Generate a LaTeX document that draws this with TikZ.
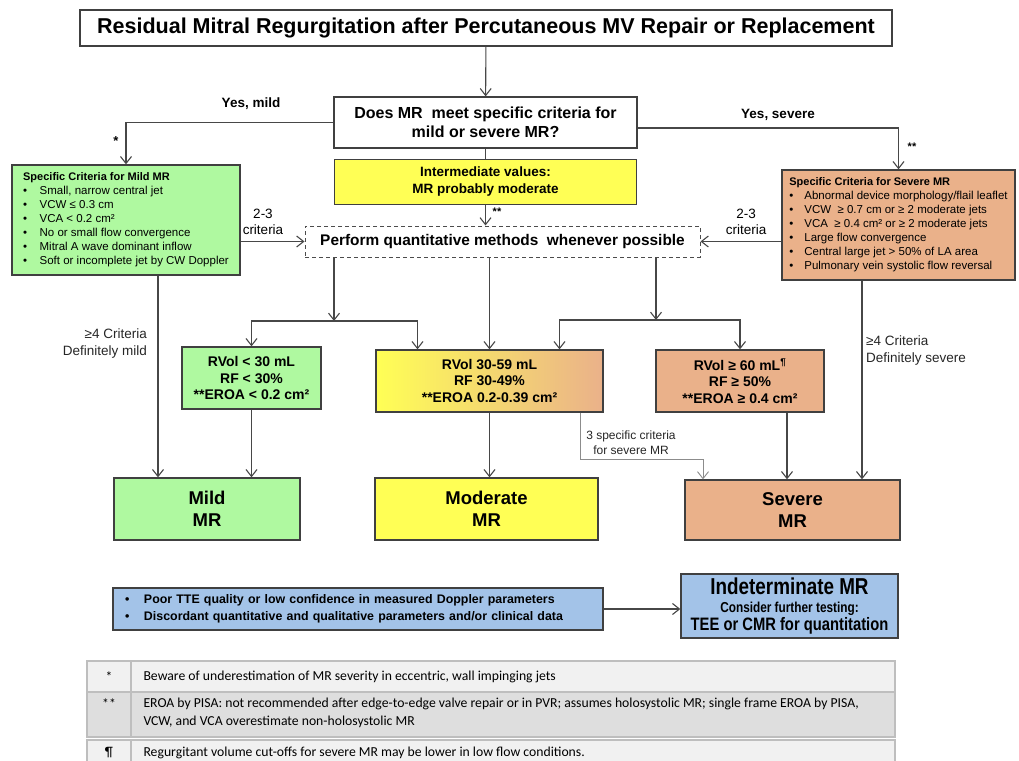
\documentclass[tikz,border=0pt]{standalone}
\usepackage{fontspec}
\setmainfont{Liberation Sans}
\newfontfamily\narrowsans{Liberation Sans}[FakeStretch=0.82]
\newfontfamily\notesans{Carlito}
\usetikzlibrary{arrows.meta,positioning}

\definecolor{mildgreen}{HTML}{AFF9A0}
\definecolor{modyellow}{HTML}{FFFF55}
\definecolor{sevorange}{HTML}{EAB18A}
\definecolor{indblue}{HTML}{A3C3E8}
\definecolor{boxline}{HTML}{404040}
\definecolor{rowlight}{HTML}{F1F1F1}
\definecolor{rowdark}{HTML}{DEDEDE}
\definecolor{rowline}{HTML}{BEBEBE}

\newcommand{\fsz}[2]{\fontsize{#1}{#2}\selectfont}
\newcommand{\blt}[1][16.5pt]{\makebox[#1][l]{\textbullet}}

\begin{document}
\begin{tikzpicture}[x=1pt,y=-1pt,
  >={Straight Barb[length=7pt,width=11pt]},
  box/.style={draw=boxline,line width=1.3pt,align=center,inner sep=2pt,font=\bfseries},
  critbox/.style={draw=boxline,line width=1.3pt,align=left,inner xsep=0pt,inner ysep=2pt},
  conn/.style={draw=black!72,line width=1.1pt},
  thinconn/.style={draw=black!45,line width=0.9pt},
  lbl/.style={inner sep=0pt,align=center}]

\useasboundingbox (0,0) rectangle (1019,760);

\node[box,minimum width=812pt,minimum height=36pt,font=\bfseries\fsz{21.5}{24}] (title) at (486,28) {Residual Mitral Regurgitation after Percutaneous MV Repair or Replacement};
\node[box,minimum width=303pt,minimum height=51pt,font=\bfseries\fsz{16}{19}] (question) at (485.5,122.5) {Does MR~ meet specific criteria for\\mild or severe MR?};
\node[box,fill=modyellow,minimum width=302pt,minimum height=45pt,font=\bfseries\fsz{13.5}{17},below=10pt of question] (inter) {Intermediate values:\\MR probably moderate};
\node[box,draw=black!70,line width=1pt,dash pattern=on 4pt off 3pt,minimum width=395pt,minimum height=31pt,font=\bfseries\fsz{15.4}{18}] (quant) at (502.5,241.5) {Perform quantitative methods~ whenever possible};

\node[critbox,fill=mildgreen,minimum width=228pt,minimum height=110pt,font=\fsz{11.5}{14}] (mildcrit) at (126,220) {{\bfseries\fsz{11}{14}Specific Criteria for Mild MR}\\
\blt Small, narrow central jet\\
\blt VCW ≤ 0.3 cm\\
\blt VCA < 0.2 cm²\\
\blt No or small flow convergence\\
\blt Mitral A wave dominant inflow\\
\blt Soft or incomplete jet by CW Doppler};
\node[critbox,fill=sevorange,minimum width=233pt,minimum height=110pt,font=\fsz{11.5}{14}] (sevcrit) at (898.5,225) {{\bfseries\fsz{11}{14}Specific Criteria for Severe MR}\\
\blt[15pt]Abnormal device morphology/flail leaflet\\
\blt[15pt]VCW~ ≥ 0.7 cm or ≥ 2 moderate jets\\
\blt[15pt]VCA~ ≥ 0.4 cm² or ≥ 2 moderate jets\\
\blt[15pt]Large flow convergence\\
\blt[15pt]Central large jet > 50\% of LA area\\
\blt[15pt]Pulmonary vein systolic flow reversal};

\node[box,fill=mildgreen,minimum width=139pt,minimum height=62pt,font=\bfseries\fsz{14}{16.5}] (mildq) at (251.5,378) {RVol < 30 mL\\RF < 30\%\\**EROA < 0.2 cm²};
\node[box,left color=modyellow,middle color=modyellow!60!sevorange,right color=sevorange,minimum width=227pt,minimum height=62pt,font=\bfseries\fsz{14}{16.5}] (modq) at (489.5,381) {RVol 30-59 mL\\RF 30-49\%\\**EROA 0.2-0.39 cm²};
\node[box,fill=sevorange,minimum width=168pt,minimum height=62pt,font=\bfseries\fsz{14}{16.5}] (sevq) at (740,381) {RVol ≥ 60 mL\textsuperscript{¶}\\RF ≥ 50\%\\**EROA ≥ 0.4 cm²};

\node[box,fill=mildgreen,minimum width=186pt,minimum height=62pt,font=\bfseries\fsz{18.5}{22}] (mild) at (207,509) {Mild\\MR};
\node[box,fill=modyellow,minimum width=223pt,minimum height=62pt,font=\bfseries\fsz{18.5}{22}] (moderate) at (486.5,509) {Moderate\\MR};
\node[box,fill=sevorange,minimum width=215pt,minimum height=60pt,font=\bfseries\fsz{18.5}{22}] (severe) at (792.5,510) {Severe\\MR};

\node[box,fill=indblue,align=left,minimum width=490pt,minimum height=42pt,text width=466pt,font=\bfseries\fsz{12.4}{16.5}] (tte) at (358,609) {\blt[19pt]Poor TTE quality or low confidence in measured Doppler parameters\\
\blt[19pt]Discordant quantitative and qualitative parameters and/or clinical data};
\node[box,fill=indblue,minimum width=217pt,minimum height=64pt,inner sep=1pt,font=\narrowsans\bfseries\fsz{14.4}{18}] (indet) at (789.5,606) {{\fsz{23}{22}Indeterminate MR}\\{\fsz{14.4}{17}Consider further testing:}\\{\fsz{18}{20}TEE or CMR for quantitation}};

\draw[conn,->] (title) -- (question);
\draw[conn] (question) -- (inter);
\draw[conn,->] (inter.south) -- (inter.south |- quant.north);
\node[font=\bfseries\fsz{11}{12}] (starquant) at (497,212) {**};

\draw[conn,->] (question.west) -| (mildcrit.north);
\node[font=\bfseries\fsz{13.5}{16}] (yesmild) at (251,104) {Yes, mild};
\node[font=\bfseries\fsz{13}{14}] (starmild) at (116,141) {*};
\draw[conn,->] ([yshift=-5.5pt]question.east) -| (sevcrit.north);
\node[font=\bfseries\fsz{13.5}{16}] (yessev) at (778,115) {Yes, severe};
\node[font=\bfseries\fsz{11}{12}] (starsev) at (912,147) {**};

\draw[conn,->] (mildcrit.east |- quant.west) -- (quant.west);
\node[lbl,font=\fsz{13.5}{16}] (critleft) at (263,222) {2-3\\criteria};
\draw[conn,->] (sevcrit.west |- quant.east) -- (quant.east);
\node[lbl,font=\fsz{13.5}{16}] (critright) at (746,222) {2-3\\criteria};

\coordinate (lsplit) at (334,321);
\coordinate (rsplit) at (656,320);
\draw[conn,->] (quant.south -| lsplit) -- (lsplit);
\draw[conn,->] (lsplit) -| (mildq.north);
\draw[conn,->] (lsplit) -| ([xshift=-72pt]modq.north);
\draw[conn,->] (quant.south -| modq.north) -- (modq.north);
\draw[conn,->] (quant.south -| rsplit) -- (rsplit);
\draw[conn,->] (rsplit) -| ([xshift=70pt]modq.north);
\draw[conn,->] (rsplit) -| (sevq.north);

\draw[conn,->] ([xshift=32pt]mildcrit.south) -- ([xshift=32pt]mildcrit.south |- mild.north);
\node[lbl,align=right,anchor=east,text=black!85,font=\fsz{13.5}{17}] (fourmild) at (147,344) {≥4 Criteria\\Definitely mild};
\draw[conn,->] ([xshift=-36.5pt]sevcrit.south) -- ([xshift=-36.5pt]sevcrit.south |- severe.north);
\node[lbl,align=left,anchor=west,text=black!85,font=\fsz{13.5}{17}] (foursev) at (866,351) {≥4 Criteria\\Definitely severe};

\draw[conn,->] (mildq.south) -- (mildq.south |- mild.north);
\draw[conn,->] (modq.south) -- (modq.south |- moderate.north);
\draw[conn,->] ([xshift=47pt]sevq.south) -- ([xshift=47pt]sevq.south |- severe.north);

\coordinate (kink) at (703,459);
\draw[thinconn,->] ([xshift=90.5pt]modq.south) |- (kink) -- (kink |- severe.north);
\node[lbl,text=black!85,font=\fsz{12}{15}] (threecrit) at (631,443) {3 specific criteria\\for severe MR};

\draw[conn,->] (tte.east) -- (tte.east -| indet.west);

\fill[rowlight] (87,661) rectangle (895,692);
\fill[rowdark] (87,692) rectangle (895,737);
\fill[rowlight] (87,740) rectangle (895,770);
\draw[rowline,line width=1.5pt] (87,661) rectangle (895,692);
\draw[rowline,line width=1.5pt] (87,692) rectangle (895,737);
\draw[rowline,line width=1.5pt] (87,740) rectangle (895,770);
\draw[rowline,line width=1.5pt] (131,661) -- (131,737);
\draw[rowline,line width=1.5pt] (131,740) -- (131,770);
\node[font=\notesans\fsz{13.7}{18}] (noteAkey) at (109,677) {*};
\node[font=\notesans\fsz{13.7}{18}] (noteBkey) at (109,704) {**};
\node[font=\notesans\fsz{13.7}{18}] (noteCkey) at (109,753) {¶};
\node[anchor=west,font=\notesans\fsz{13.7}{18}] (noteA) at (140,677) {Beware of underestimation of MR severity in eccentric, wall impinging jets};
\node[anchor=west,align=left,font=\notesans\fsz{13.7}{18}] (noteB) at (140,713) {EROA by PISA: not recommended after edge-to-edge valve repair or in PVR; assumes holosystolic MR; single frame EROA by PISA,\\VCW, and VCA overestimate non-holosystolic MR};
\node[anchor=west,font=\notesans\fsz{13.7}{18}] (noteC) at (140,753) {Regurgitant volume cut-offs for severe MR may be lower in low flow conditions.};

\end{tikzpicture}
\end{document}
